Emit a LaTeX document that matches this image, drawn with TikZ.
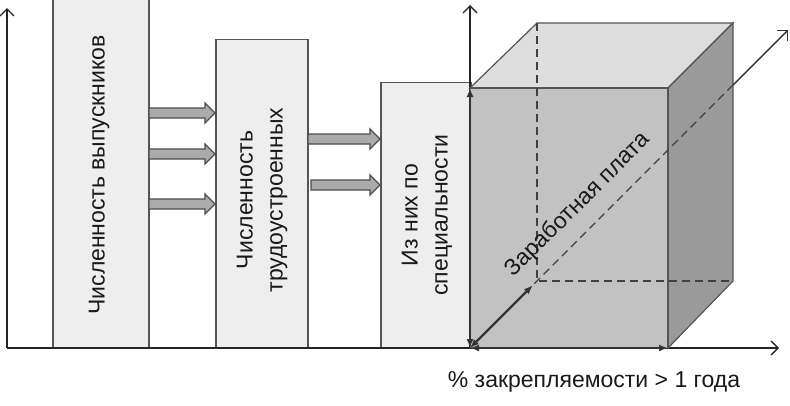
\documentclass[tikz,border=0pt]{standalone}
\usepackage{fontspec}
\setmainfont{Liberation Sans}
\usetikzlibrary{arrows.meta}
\definecolor{boxfill}{HTML}{EEEEEE}
\definecolor{frontfill}{HTML}{C2C2C2}
\definecolor{topfill}{HTML}{DEDEDE}
\definecolor{sidefill}{HTML}{9A9A9A}
\definecolor{edge}{HTML}{555555}
\definecolor{arrfill}{HTML}{ABABAB}
\tikzset{
  axis/.style={line width=1.5pt, draw=black!85, -{Straight Barb[length=7pt,width=14pt,line width=1.3pt]}},
  box/.style={draw=edge, line width=1.5pt, fill=boxfill, anchor=south west, inner sep=0pt},
  lbl/.style={font=\fontsize{23}{30}\selectfont, text=black!90, align=center},
  face/.style={draw=edge, line width=1.2pt},
  hidden/.style={draw=black!75, line width=1.3pt, dash pattern=on 8pt off 5pt},
  dim/.style={line width=2.2pt, draw=black!80, {Latex[length=9pt,width=7pt]}-{Latex[length=9pt,width=7pt]}},
  blockarr/.style={draw=black!70, line width=1.3pt, fill=arrfill}
}
\begin{document}
\begin{tikzpicture}[x=1pt,y=-1pt]
\useasboundingbox (0,0) rectangle (790,405);
% axes
\coordinate (O) at (7,348);
\coordinate (Otop) at (7,8);
\coordinate (X) at (470,348);
\coordinate (Xend) at (779,348);
\coordinate (Ztop) at (470,5);
\draw[axis] (O) -- (Otop);
% boxes
\node[box, minimum width=96pt, minimum height=348pt] (b1) at (52,348) {};
\node[box, minimum width=92pt, minimum height=308pt] (b2) at (215,348) {};
\node[box, minimum width=90pt, minimum height=265pt] (b3) at (380,348) {};
\node[lbl, rotate=90] (t1) at (99,175) {Численность выпускников};
\node[lbl, rotate=90] (t2) at (262,200) {Численность\\трудоустроенных};
\node[lbl, rotate=90] (t3) at (427,215) {Из них по\\специальности};
% block arrows
\foreach \y in {113,154,204}{
  \draw[blockarr] (149,\y-5) -- (205,\y-5) -- (205,\y-10) -- (215,\y) -- (205,\y+10) -- (205,\y+5) -- (149,\y+5) -- cycle;
}
\foreach \y/\s in {139/308,185/311}{
  \draw[blockarr] (\s,\y-5) -- (370,\y-5) -- (370,\y-10) -- (380,\y) -- (370,\y+10) -- (370,\y+5) -- (\s,\y+5) -- cycle;
}
\draw[line width=1.5pt, draw=black!85] (O) -- (X);
\draw[axis] (X) -- (Xend);
\draw[axis] (X) -- (Ztop);
% cube
\coordinate (F1) at (470,88);
\coordinate (F2) at (668,88);
\coordinate (F3) at (668,348);
\coordinate (F4) at (470,348);
\coordinate (B1) at (537,23);
\coordinate (B2) at (733,23);
\coordinate (B3) at (733,281);
\coordinate (B4) at (537,281);
\coordinate (D1) at (733,85);
\coordinate (D2) at (788,30);
\fill[frontfill] (F1) -- (F2) -- (F3) -- (F4) -- cycle;
\draw[face, fill=topfill] (F1) -- (B1) -- (B2) -- (F2) -- cycle;
\draw[face, fill=sidefill] (F2) -- (B2) -- (B3) -- (F3) -- cycle;
\draw[face] (F1) -- (F2) -- (F3);
\draw[hidden] (B1) -- (B4) -- (B3);
\draw[hidden] (F4) -- (D1);
\draw[line width=1.4pt, draw=black!80, -{Straight Barb[length=7pt,width=14pt,line width=1.3pt]}] (D1) -- (D2);
% dimension arrows
\draw[dim] (F1) -- (F4);
\draw[dim] (F4) -- (F3);
\draw[dim, shorten >=6pt] (F4) -- (B4);
\node[lbl, rotate=45] (tz) at (578,205) {Заработная плата};
\node[lbl] (tx) at (594,382) {\% закрепляемости > 1 года};
\end{tikzpicture}
\end{document}
